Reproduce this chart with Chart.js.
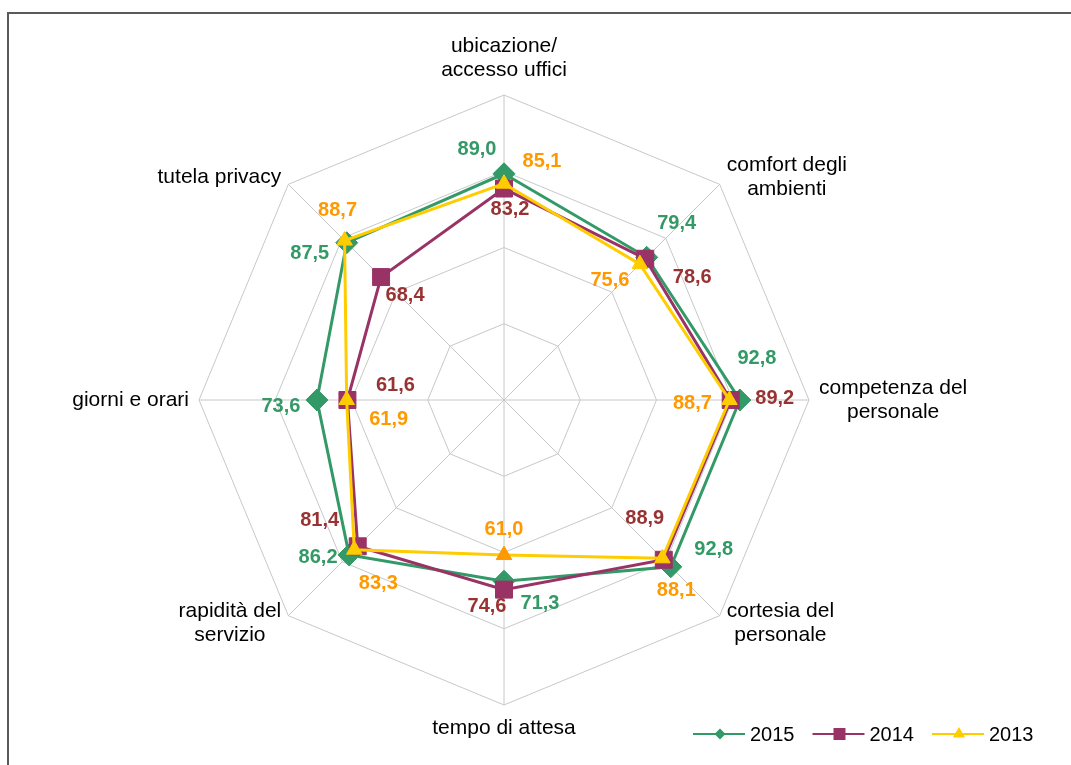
<!DOCTYPE html>
<html>
<head>
<meta charset="utf-8">
<script src="https://cdn.jsdelivr.net/npm/chart.js@4.4.1/dist/chart.umd.min.js"></script>
<style>
  html, body { margin: 0; padding: 0; background: #fff; overflow: hidden; }
  #wrap { position: relative; width: 1071px; height: 765px; }
  #frame { position: absolute; left: 7px; top: 12px; width: 1100px; height: 800px; border: 2px solid #5a5a5a; box-sizing: border-box; }
  #chart { position: absolute; left: 0; top: 0; }
</style>
</head>
<body>
<div id="wrap">
  <div id="frame"></div>
  <canvas id="chart" width="1071" height="765"></canvas>
</div>
<script>
// categories (axes of the radar)
const categories = [
  ['ubicazione/', 'accesso uffici'],
  ['comfort degli', 'ambienti'],
  ['competenza del', 'personale'],
  ['cortesia del', 'personale'],
  'tempo di attesa',
  ['rapidità del', 'servizio'],
  'giorni e orari',
  'tutela privacy'
];

// series values
const val2015 = [89.0, 79.4, 92.8, 92.8, 71.3, 86.2, 73.6, 87.5];
const val2014 = [83.2, 78.6, 89.2, 88.9, 74.6, 81.4, 61.6, 68.4];
const val2013 = [85.1, 75.6, 88.7, 88.1, 61.0, 83.3, 61.9, 88.7];

// where each value label sits relative to its marker (px)
const off2015 = [[-27, -24], [30, -34], [17, -42], [43, -17], [36, 22], [-31, 3], [-36, 6], [-37, 11]];
const off2014 = [[6, 21], [47, 19], [44, -2], [-19, -41], [-17, 17], [-38, -26], [48, -15], [24, 18]];
const off2013 = [[38, -22], [-30, 16], [-37, 3], [14, 32], [0, -26], [24, 34], [42, 19], [-7, -30]];

const GREEN = '#339966';
const PURPLE = '#993366';
const YELLOW = '#FFCC00';
const ORANGE = '#FF9900';
const FONT = '"Liberation Sans", Arial, Helvetica, sans-serif';

function fmt(v) {
  return v.toFixed(1).replace('.', ',');
}

function drawMarker(ctx, style, x, y, r, color) {
  ctx.fillStyle = color;
  ctx.beginPath();
  if (style === 'rectRot') {
    ctx.moveTo(x - r, y); ctx.lineTo(x, y - r); ctx.lineTo(x + r, y); ctx.lineTo(x, y + r);
  } else if (style === 'rect') {
    ctx.rect(x - r, y - r, 2 * r, 2 * r);
  } else {
    ctx.moveTo(x, y - r); ctx.lineTo(x + r * 0.87, y + r * 0.5); ctx.lineTo(x - r * 0.87, y + r * 0.5);
  }
  ctx.closePath();
  ctx.fill();
}

// value labels next to each marker
const valueLabels = {
  id: 'valueLabels',
  afterDatasetsDraw(chart) {
    const ctx = chart.ctx;
    ctx.save();
    ctx.font = 'bold 20px ' + FONT;
    ctx.textAlign = 'center';
    ctx.textBaseline = 'middle';
    chart.data.datasets.forEach((ds, di) => {
      const meta = chart.getDatasetMeta(di);
      meta.data.forEach((pt, i) => {
        const o = ds.labelOffsets[i];
        ctx.fillStyle = ds.labelColor;
        ctx.fillText(fmt(ds.data[i]), pt.x + o[0], pt.y + o[1]);
      });
    });
    ctx.restore();
  }
};

// axis names, lines centred inside each block like the original
const axisLabels = {
  id: 'axisLabels',
  afterDraw(chart) {
    const scale = chart.scales.r;
    const ctx = chart.ctx;
    const lh = 24;
    ctx.save();
    ctx.font = '21px ' + FONT;
    ctx.fillStyle = '#000';
    ctx.textAlign = 'center';
    ctx.textBaseline = 'middle';
    chart.data.labels.forEach((lab, i) => {
      const lines = [].concat(lab);
      const p = scale.getPointPosition(i, scale.drawingArea + 10);
      const w = Math.max(...lines.map(l => ctx.measureText(l).width));
      const h = lines.length * lh;
      const dx = p.x - scale.xCenter;
      const dy = p.y - scale.yCenter;
      let cx = p.x;
      let top = p.y - h / 2;
      if (dx > 5) cx = p.x + w / 2;
      else if (dx < -5) cx = p.x - w / 2;
      else top = dy < 0 ? p.y - 3 - h : p.y + 1;
      lines.forEach((l, k) => ctx.fillText(l, cx, top + lh * k + lh / 2));
    });
    ctx.restore();
  }
};

// legend: line with marker, like the spreadsheet legend
const lineLegend = {
  id: 'lineLegend',
  afterDraw(chart, args, opts) {
    const ctx = chart.ctx;
    const sizes = { rectRot: 5.5, rect: 6, triangle: 7 };
    let x = opts.x;
    const y = opts.y;
    ctx.save();
    ctx.font = '20px ' + FONT;
    ctx.textBaseline = 'middle';
    ctx.textAlign = 'left';
    chart.data.datasets.forEach(ds => {
      ctx.strokeStyle = ds.borderColor;
      ctx.lineWidth = 2;
      ctx.beginPath();
      ctx.moveTo(x, y);
      ctx.lineTo(x + 52, y);
      ctx.stroke();
      drawMarker(ctx, ds.pointStyle, x + 27, y, sizes[ds.pointStyle], ds.borderColor);
      ctx.fillStyle = '#000';
      ctx.fillText(ds.label, x + 57, y + 1);
      x += 57 + ctx.measureText(ds.label).width + 18;
    });
    ctx.restore();
  }
};

const ctx = document.getElementById('chart').getContext('2d');

const myChart = new Chart(ctx, {
  type: 'radar',
  data: {
    labels: categories,
    datasets: [{
      label: '2015',
      data: val2015,
      borderColor: GREEN,
      backgroundColor: GREEN,
      pointBackgroundColor: GREEN,
      pointBorderColor: GREEN,
      pointStyle: 'rectRot',
      pointRadius: 11,
      pointBorderWidth: 1,
      borderWidth: 3,
      fill: false,
      order: 3,
      labelColor: '#339966',
      labelOffsets: off2015
    }, {
      label: '2014',
      data: val2014,
      borderColor: PURPLE,
      backgroundColor: PURPLE,
      pointBackgroundColor: PURPLE,
      pointBorderColor: PURPLE,
      pointStyle: 'rect',
      pointRadius: 12,
      pointBorderWidth: 1,
      borderWidth: 3,
      fill: false,
      order: 2,
      labelColor: '#993333',
      labelOffsets: off2014
    }, {
      label: '2013',
      data: val2013,
      borderColor: YELLOW,
      backgroundColor: YELLOW,
      // the tempo di attesa point and the segment leading to it are orange
      pointBackgroundColor: val2013.map((v, i) => i === 4 ? ORANGE : YELLOW),
      pointBorderColor: val2013.map((v, i) => i === 4 ? ORANGE : YELLOW),
      segment: {
        borderColor: c => c.p1DataIndex === 4 ? ORANGE : undefined
      },
      pointStyle: 'triangle',
      pointRadius: 9,
      pointBorderWidth: 1,
      borderWidth: 3,
      fill: false,
      order: 1,
      labelColor: '#FF9900',
      labelOffsets: off2013
    }]
  },
  plugins: [valueLabels, axisLabels, lineLegend],
  options: {
    responsive: false,
    animation: false,
    events: [],
    layout: {
      padding: { top: 95, bottom: 60, left: 0, right: 63 }
    },
    elements: {
      line: { tension: 0 }
    },
    plugins: {
      legend: { display: false },
      tooltip: { enabled: false },
      lineLegend: { x: 693, y: 734 }
    },
    scales: {
      r: {
        min: 0,
        max: 120,
        ticks: { display: false, stepSize: 30 },
        pointLabels: { display: false },
        grid: { color: '#c8c8c8', lineWidth: 1 },
        angleLines: { color: '#c8c8c8', lineWidth: 1 }
      }
    }
  }
});
</script>
</body>
</html>
